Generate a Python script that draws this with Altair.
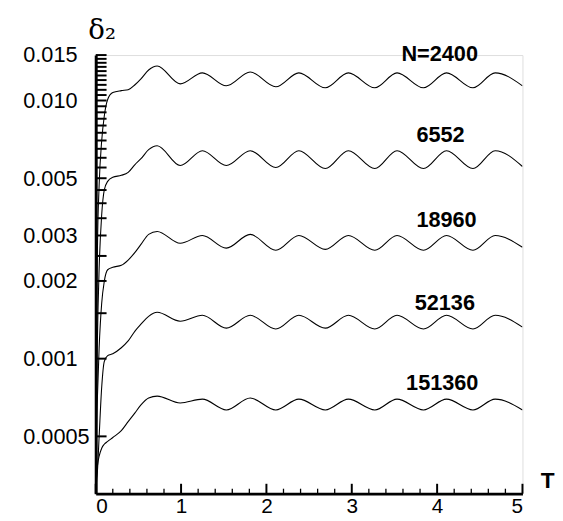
import altair as alt
import pandas as pd

# time grid (T) shared by all curves
T = [0, 0.01, 0.02, 0.04, 0.07, 0.10, 0.14, 0.20, 0.30, 0.38, 0.46, 0.53, 0.62, 0.72,
     0.99, 1.25, 1.53, 1.81, 2.11, 2.38, 2.69, 2.96, 3.27, 3.53, 3.84, 4.11, 4.42, 4.68, 5.0]

n2400 = [0.0003, 0.00131, 0.00265, 0.0047, 0.00698, 0.00869, 0.01009, 0.01073, 0.01092, 0.01101,
         0.01151, 0.01213, 0.01313, 0.0136,
         0.0116, 0.0128, 0.0114, 0.0129, 0.0113, 0.0128, 0.0112, 0.0128, 0.0112, 0.0128,
         0.0112, 0.0128, 0.0112, 0.0128, 0.0114]
n6552 = [0.0003, 0.00071, 0.00120, 0.00223, 0.00361, 0.00450, 0.00486, 0.00504, 0.00513, 0.00527,
         0.00565, 0.00595, 0.00645, 0.00668,
         0.00560, 0.00639, 0.00560, 0.00639, 0.00550, 0.00639, 0.00545, 0.00639, 0.00545, 0.00639,
         0.00545, 0.00639, 0.00545, 0.00639, 0.00555]
n18960 = [0.0003, 0.000545, 0.00071, 0.00110, 0.00164, 0.00199, 0.00221, 0.00226, 0.00230, 0.00241,
          0.00258, 0.00277, 0.00303, 0.00311,
          0.00280, 0.00300, 0.00268, 0.00303, 0.00263, 0.00300, 0.00265, 0.00300, 0.00263, 0.00300,
          0.00263, 0.00300, 0.00263, 0.00300, 0.00270]
n52136 = [0.0003, 0.000336, 0.000367, 0.000499, 0.000775, 0.000974, 0.001027, 0.001045, 0.001102, 0.001171,
          0.001279, 0.001360, 0.001459, 0.001512,
          0.001396, 0.001472, 0.001313, 0.001472, 0.001302, 0.001472, 0.001313, 0.001472, 0.001302, 0.001472,
          0.001302, 0.001472, 0.001302, 0.001472, 0.001325]
n151360 = [0.0003, 0.000351, 0.000384, 0.000419, 0.000450, 0.000466, 0.000478, 0.000495, 0.000526, 0.000570,
           0.000617, 0.000662, 0.000704, 0.000716,
           0.000673, 0.000697, 0.000633, 0.000704, 0.000633, 0.000697, 0.000633, 0.000697, 0.000633, 0.000697,
           0.000633, 0.000697, 0.000633, 0.000697, 0.000633]

series_names = ["N=2400", "6552", "18960", "52136", "151360"]
label_T = [4.03, 4.04, 4.11, 4.09, 4.06]
label_v = [0.0151, 0.00735, 0.00345, 0.00164, 0.000803]

y_label_values = [0.015, 0.010, 0.005, 0.003, 0.002, 0.001, 0.0005]
y_tick_values = [0.0005, 0.001, 0.0015, 0.002, 0.0025, 0.003, 0.0035, 0.004, 0.0045, 0.005,
                 0.0055, 0.006, 0.0065, 0.007, 0.0075, 0.008, 0.0085, 0.009, 0.0095, 0.010,
                 0.0105, 0.011, 0.0115, 0.012, 0.0125, 0.013, 0.0135, 0.014, 0.0145, 0.015]
x_major = [0, 1, 2, 3, 4, 5]
x_minor = [0.2, 0.4, 0.6, 0.8, 1.2, 1.4, 1.6, 1.8, 2.2, 2.4, 2.6, 2.8,
           3.2, 3.4, 3.6, 3.8, 4.2, 4.4, 4.6, 4.8]

rows = []
for name, vals in zip(series_names, [n2400, n6552, n18960, n52136, n151360]):
    for t, v in zip(T, vals):
        rows.append({"T": t, "d": v, "N": name})
curves = pd.DataFrame(rows)
labels = pd.DataFrame({"T": label_T, "d": label_v, "N": series_names})
yticks = pd.DataFrame({"d": y_tick_values})
xmaj = pd.DataFrame({"T": x_major})
xmin = pd.DataFrame({"T": x_minor})

W, H = 433, 445
FONT = "Liberation Sans, Arial, Helvetica, sans-serif"

xscale = alt.Scale(domain=[0, 5], nice=False, zero=False)
yscale = alt.Scale(type="log", domain=[0.0003, 0.015], nice=False)

xaxis = alt.Axis(
    values=x_major, ticks=False, tickSize=0, grid=False, labelPadding=2,
    labelFontSize=21, labelFont=FONT, labelColor="black", labelFontWeight="normal",
    domainColor="black", domainWidth=3,
    title="T", titleFont=FONT, titleFontSize=23, titleFontWeight="bold",
    titleX=458, titleY=-13, titleAlign="center", titleBaseline="middle", titleColor="black")
yaxis = alt.Axis(
    values=y_label_values, ticks=False, tickSize=0, grid=False,
    labelExpr="datum.value < 0.001 ? format(datum.value, '.4f') : format(datum.value, '.3f')",
    labelAlign="left", labelPadding=74, labelBaseline="middle",
    labelFontSize=22, labelFont=FONT, labelColor="black",
    domainColor="black", domainWidth=3,
    title="δ₂", titleFont="DejaVu Serif, Liberation Serif, serif", titleFontSize=28,
    titleFontWeight="normal", titleAngle=0, titleX=6, titleY=-17,
    titleAlign="center", titleBaseline="alphabetic", titleColor="black")

lines = alt.Chart(curves).mark_line(
    color="black", strokeWidth=1.1, interpolate="monotone", clip=True
).encode(
    x=alt.X("T:Q", scale=xscale, axis=xaxis),
    y=alt.Y("d:Q", scale=yscale, axis=yaxis),
    detail="N:N",
)

ytick_layer = alt.Chart(yticks).mark_rule(color="black", strokeWidth=2, strokeCap="butt").encode(
    y=alt.Y("d:Q", scale=yscale, axis=yaxis),
    x=alt.value(0), x2=alt.value(11),
)

xmaj_layer = alt.Chart(xmaj).mark_rule(color="black", strokeWidth=2, strokeCap="butt").encode(
    x=alt.X("T:Q", scale=xscale, axis=xaxis),
    y=alt.value(H), y2=alt.value(H - 10),
)
xmin_layer = alt.Chart(xmin).mark_rule(color="black", strokeWidth=1.3, strokeCap="butt").encode(
    x=alt.X("T:Q", scale=xscale, axis=xaxis),
    y=alt.value(H), y2=alt.value(H - 5),
)

label_layer = alt.Chart(labels).mark_text(
    font=FONT, fontSize=22, fontWeight="bold", color="black", align="center", baseline="middle"
).encode(
    x=alt.X("T:Q", scale=xscale, axis=xaxis),
    y=alt.Y("d:Q", scale=yscale, axis=yaxis),
    text="N:N",
)

chart = alt.layer(lines, ytick_layer, xmaj_layer, xmin_layer, label_layer).properties(
    width=W, height=H,
    padding={"left": 89, "top": 44, "right": 33, "bottom": 23},
    autosize=alt.AutoSizeParams(type="none"),
).configure_view(stroke=None).configure(background="white")

chart.save("out.html", embed_options={"renderer": "svg", "actions": False})
